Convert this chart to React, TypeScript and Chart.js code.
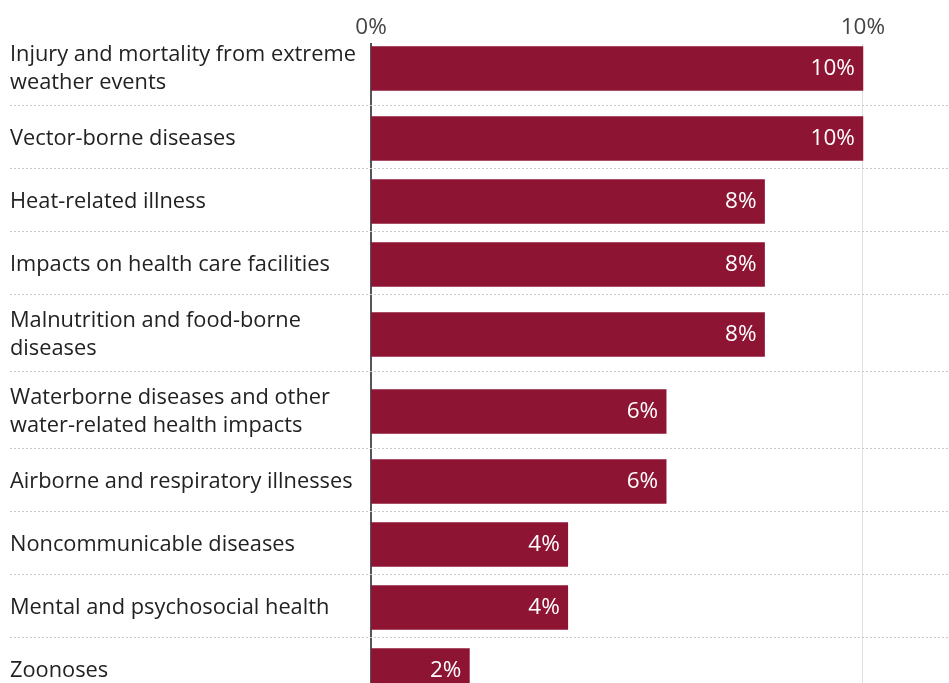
import React, { useEffect, useRef } from "react";
import { Chart, registerables } from "chart.js";

Chart.register(...registerables);

const categories: string[][] = [
  ["Injury and mortality from extreme", "weather events"],
  ["Vector-borne diseases"],
  ["Heat-related illness"],
  ["Impacts on health care facilities"],
  ["Malnutrition and food-borne", "diseases"],
  ["Waterborne diseases and other", "water-related health impacts"],
  ["Airborne and respiratory illnesses"],
  ["Noncommunicable diseases"],
  ["Mental and psychosocial health"],
  ["Zoonoses"],
];
const values: number[] = [10, 10, 8, 8, 8, 6, 6, 4, 4, 2];
const xTickValues: number[] = [0, 10];

const FONT = "'Open Sans', 'Noto Sans', sans-serif";
const BAR_COLOR = "#8e1433";

// Each row's height grows with the number of lines in its label
const ROW_BASE = 3.5;
const rowSizes = categories.map((l) => ROW_BASE + l.length);
const rowStarts: number[] = [];
rowSizes.reduce((acc, s) => {
  rowStarts.push(acc);
  return acc + s;
}, 0);
const rowCenters = rowStarts.map((s, i) => s + rowSizes[i] / 2);
const totalUnits = rowSizes.reduce((a, b) => a + b, 0);

const separatorPlugin = {
  id: "separators",
  beforeDatasetsDraw(chart: any) {
    const { ctx } = chart;
    const yScale = chart.scales.y;
    ctx.save();
    ctx.strokeStyle = "#c8c8c8";
    ctx.lineWidth = 1;
    ctx.setLineDash([2, 2]);
    for (let i = 1; i < rowStarts.length; i++) {
      const y = Math.round(yScale.getPixelForValue(rowStarts[i])) - 1.5;
      ctx.beginPath();
      ctx.moveTo(10, y);
      ctx.lineTo(chart.width, y);
      ctx.stroke();
    }
    ctx.restore();
  },
};

const valueLabelPlugin = {
  id: "valueLabels",
  afterDatasetsDraw(chart: any) {
    const { ctx } = chart;
    const meta = chart.getDatasetMeta(0);
    ctx.save();
    ctx.fillStyle = "#ffffff";
    ctx.font = `22.5px ${FONT}`;
    ctx.textAlign = "right";
    ctx.textBaseline = "middle";
    meta.data.forEach((el: any, i: number) => {
      ctx.fillText(`${values[i]}%`, el.x - 8, el.y);
    });
    ctx.restore();
  },
};

export default function App() {
  const canvasRef = useRef<HTMLCanvasElement | null>(null);

  useEffect(() => {
    if (!canvasRef.current) return;
    const chart = new Chart(canvasRef.current, {
      type: "bar",
      data: {
        datasets: [
          {
            data: values.map((v, i) => ({ x: v, y: rowCenters[i] })),
            backgroundColor: BAR_COLOR,
            borderWidth: 0,
            barThickness: 44,
          } as any,
        ],
      },
      options: {
        indexAxis: "y",
        animation: false,
        responsive: false,
        layout: { padding: { left: 10, top: 11, right: 0, bottom: 0 } },
        plugins: {
          legend: { display: false },
          tooltip: { enabled: false },
        },
        scales: {
          x: {
            type: "linear",
            position: "top",
            min: 0,
            max: 11.75,
            afterBuildTicks: (s: any) => {
              s.ticks = xTickValues.map((v) => ({ value: v }));
            },
            afterFit: (s: any) => {
              s.paddingLeft = 0;
              s.paddingRight = 0;
            },
            ticks: {
              callback: (v: any) => `${v}%`,
              color: "#444444",
              font: { family: FONT, size: 22.5 },
              padding: 3,
              maxRotation: 0,
              autoSkip: false,
            },
            grid: {
              color: (c: any) =>
                c.tick && c.tick.value === 0 ? "rgba(0,0,0,0)" : "#e0e0e0",
              drawTicks: false,
              lineWidth: 1,
            },
            border: { display: false },
          },
          y: {
            type: "linear",
            reverse: true,
            offset: false,
            min: 1,
            max: totalUnits,
            afterBuildTicks: (s: any) => {
              s.ticks = rowCenters.map((v) => ({ value: v }));
            },
            afterFit: (s: any) => {
              s.width = 361;
              s.paddingTop = 0;
              s.paddingBottom = 0;
            },
            ticks: {
              crossAlign: "far",
              callback: (_v: any, i: number) => categories[i],
              color: "#222222",
              font: { family: FONT, size: 21.8, lineHeight: 1.28 },
              autoSkip: false,
            },
            grid: { display: false, offset: false },
            border: { display: true, color: "#555555", width: 2 },
          },
        },
      } as any,
      plugins: [separatorPlugin, valueLabelPlugin],
    });
    return () => chart.destroy();
  }, []);

  return (
    <div style={{ position: "absolute", left: 0, top: 0, width: 949, height: 702 }}>
      <canvas ref={canvasRef} width={949} height={702} style={{ display: "block" }} />
    </div>
  );
}
